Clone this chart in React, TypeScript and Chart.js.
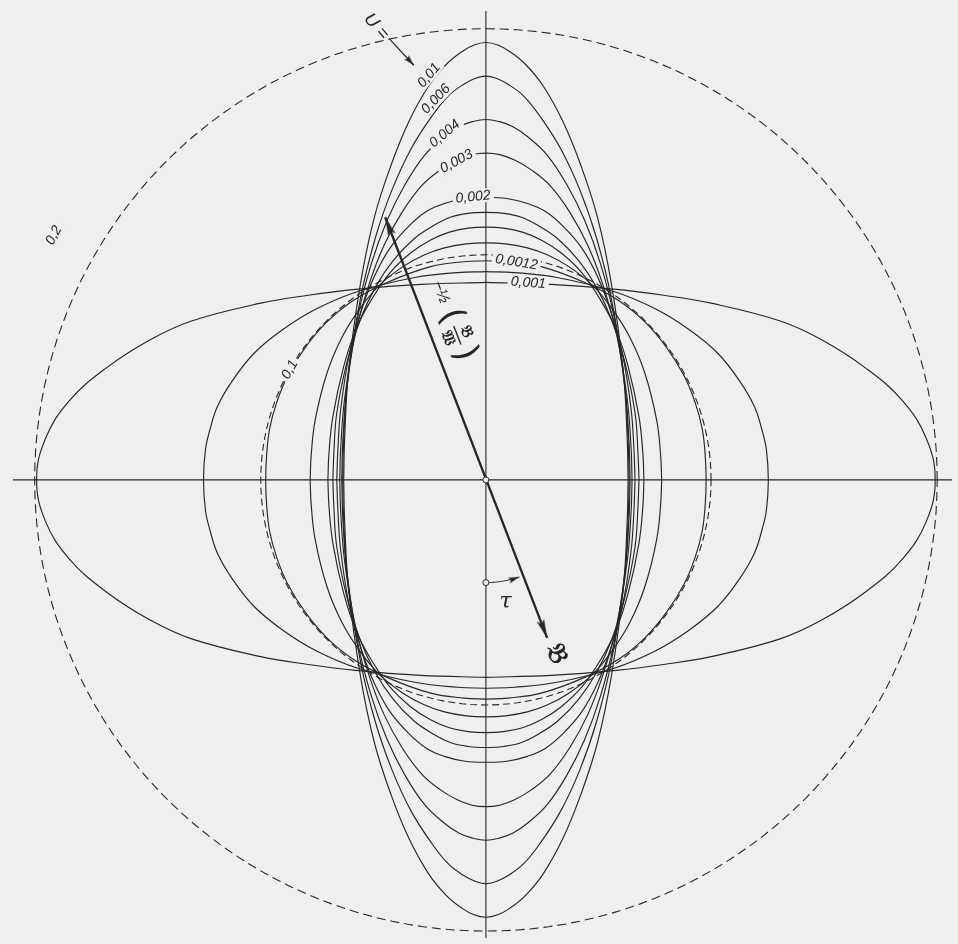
import React, { useEffect, useRef } from 'react';
import { Chart, registerables } from 'chart.js';

Chart.register(...registerables);

const CANVAS_W = 958;
const CANVAS_H = 944;
const X_RANGE = [-486, 472];
const Y_RANGE = [-464, 480];

const BG = '#efefed';
const INK = '#262626';

// Quarter outlines of the U-curves: (dx, dy) from the centre,
// running from the horizontal axis to the vertical axis.
const Q_0_001 = [[455, 0], [446, 42], [422, 80], [385, 113], [340, 142], [298, 161], [228, 179], [180, 187], [132, 193], [66, 198], [0, 200]];
const Q_0_0011 = [[286, 0], [284, 31], [280, 49], [272, 74], [257, 100], [235, 128], [206, 152], [172, 173], [129, 191], [72, 205], [29, 210], [0, 211]];
const Q_0_0012 = [[223, 0], [222, 26], [219, 52], [212, 78], [201, 105], [183, 134], [161, 160], [134, 182], [100, 200], [56, 216], [22, 221], [0, 222]];
const Q_0_0014 = [[178, 0], [177, 24], [173, 60], [161, 108], [146, 144], [128, 173], [108, 197], [84, 216], [62, 228], [42, 235], [20, 239], [0, 240]];
const Q_0_0016 = [[160, 0], [159, 26], [155, 64], [144, 115], [131, 154], [115, 184], [97, 210], [76, 230], [56, 243], [37, 251], [18, 255], [0, 256]];
const Q_0_0018 = [[155, 0], [154, 27], [151, 68], [140, 122], [127, 163], [112, 195], [94, 222], [73, 244], [54, 257], [36, 266], [18, 270], [0, 271]];
const Q_0_002 = [[151, 0], [150, 29], [147, 72], [138, 129], [126, 172], [113, 206], [97, 235], [78, 257], [60, 272], [42, 280], [21, 285], [0, 286]];
const Q_0_003 = [[148, 0], [147, 33], [143, 83], [132, 149], [118, 199], [103, 238], [85, 271], [65, 298], [46, 314], [29, 324], [14, 329.5], [0, 331]];
const Q_0_004 = [[146, 0], [145, 37], [141, 91], [130, 164], [116, 219], [100, 263], [82, 299], [62, 329], [43, 347], [27, 358], [13, 363], [0, 365]];
const Q_0_006 = [[145, 0], [144, 41], [140, 102], [127, 184], [112, 245], [95, 294], [76, 335], [55, 368], [38, 389], [22, 401], [11, 406.5], [0, 409]];
const Q_0_01 = [[144, 0], [143, 44], [139, 111], [127, 199], [113, 266], [96, 319], [78, 363], [58, 399], [40, 421], [24, 434], [12, 440.5], [0, 443]];

// curves that are wider than tall are split at the top/bottom, the others at the sides
const WIDE_CURVES = [Q_0_001, Q_0_0011, Q_0_0012];
const TALL_CURVES = [Q_0_0014, Q_0_0016, Q_0_0018, Q_0_002, Q_0_003, Q_0_004, Q_0_006, Q_0_01];

// dashed circles U = 0,1 and U = 0,2 (radius)
const DASHED_RADII = [228, 457];
const DASHED_PATTERNS = [[7, 4], [9, 5]];

// axes
const H_AXIS = [[-479, 0], [472, 0]];
const V_AXIS = [[0, 475], [0, -464]];

// the B-arrow through the centre (upper tip, lower tip)
const B_ARROW = [[-102, 266], [62, -160]];
const B_ARROW_ROT = [-21, 159];

// tau arc (radius, start and end angle from the downward vertical)
const TAU_RADIUS = 104;
const TAU_ANGLES = [0, 19];
const TAU_ARROW_ROT = 71;

// "U =" pointer
const U_ARROW = [[-98, 447], [-73, 420]];
const U_ARROW_ROT = 137;

// small circles
const MARKERS = [[0, 0], [0, -104]];

// curve labels
const CURVE_LABELS = ['0,01', '0,006', '0,004', '0,003', '0,002', '0,0012', '0,001', '0,1', '0,2'];
const CURVE_LABEL_POS = [[-58, 410], [-51, 386], [-42, 351], [-30, 323], [-13, 287], [31, 221], [43, 200], [-199, 112], [-438, 248]];
const CURVE_LABEL_ROT = [-50, -46, -40, -29, -6, 9, 4, -61, -62];

const toXY = (pts: number[][]) => pts.map(([x, y]) => ({ x, y }));

function tallHalves(q: number[][]) {
  const top = [...q, ...q.slice(0, -1).reverse().map(([x, y]) => [-x, y])];
  const bottom = top.map(([x, y]) => [x, -y]);
  return [top, bottom];
}

function wideHalves(q: number[][]) {
  const right = [...q.slice().reverse(), ...q.slice(1).map(([x, y]) => [x, -y])];
  const left = right.map(([x, y]) => [-x, y]);
  return [right, left];
}

function circlePoints(r: number) {
  const pts: number[][] = [];
  for (let i = 0; i <= 180; i++) {
    const a = (i / 180) * Math.PI * 2;
    pts.push([r * Math.cos(a), r * Math.sin(a)]);
  }
  return pts;
}

function arcPoints(r: number, a0: number, a1: number) {
  const pts: number[][] = [];
  for (let d = a0; d <= a1; d += 1) {
    const a = (d * Math.PI) / 180;
    pts.push([r * Math.sin(a), -r * Math.cos(a)]);
  }
  return pts;
}

function makeArrowHead(len: number, wid: number, notch: number) {
  const c = document.createElement('canvas');
  c.width = wid;
  c.height = len * 2;
  const g = c.getContext('2d')!;
  g.fillStyle = INK;
  g.beginPath();
  g.moveTo(wid / 2, len);
  g.lineTo(wid, 2 * len);
  g.lineTo(wid / 2, 2 * len - notch);
  g.lineTo(0, 2 * len);
  g.closePath();
  g.fill();
  return c;
}

export default function App() {
  const ref = useRef<HTMLCanvasElement | null>(null);

  useEffect(() => {
    document.body.style.margin = '0';
    document.body.style.background = BG;
    const canvas = ref.current;
    if (!canvas) return;

    const bigHead = makeArrowHead(19, 8, 4);
    const smallHead = makeArrowHead(11, 6, 2);

    const lineDs = (pts: number[][], width: number, extra: any = {}) => ({
      data: toXY(pts),
      showLine: true,
      borderColor: INK,
      borderWidth: width,
      pointRadius: 0,
      tension: 0,
      fill: false,
      ...extra,
    });

    const headDs = (pt: number[], img: HTMLCanvasElement, rot: number) => ({
      data: toXY([pt]),
      showLine: false,
      pointStyle: img,
      rotation: rot,
      pointRadius: 5,
      pointBackgroundColor: INK,
      pointBorderColor: INK,
    });

    const datasets: any[] = [];
    // top-most first
    datasets.push({
      data: toXY(MARKERS),
      showLine: false,
      pointStyle: 'circle',
      pointRadius: 3,
      pointBackgroundColor: BG,
      pointBorderColor: INK,
      pointBorderWidth: 1,
    });
    datasets.push(headDs(B_ARROW[0], bigHead, B_ARROW_ROT[0]));
    datasets.push(headDs(B_ARROW[1], bigHead, B_ARROW_ROT[1]));
    const tau = arcPoints(TAU_RADIUS, TAU_ANGLES[0], TAU_ANGLES[1]);
    datasets.push(headDs(tau[tau.length - 1], smallHead, TAU_ARROW_ROT));
    datasets.push(headDs(U_ARROW[1], smallHead, U_ARROW_ROT));
    datasets.push(lineDs(B_ARROW, 2.3));
    datasets.push(lineDs(tau, 1, { tension: 0.3 }));
    datasets.push(lineDs(U_ARROW, 1.2));
    datasets.push(lineDs(H_AXIS, 1.1));
    datasets.push(lineDs(V_AXIS, 1.1));

    WIDE_CURVES.forEach((q) => {
      wideHalves(q).forEach((h) => datasets.push(lineDs(h, 1.15, { tension: 0.4 })));
    });
    TALL_CURVES.forEach((q) => {
      tallHalves(q).forEach((h) => datasets.push(lineDs(h, 1.15, { tension: 0.4 })));
    });
    DASHED_RADII.forEach((r, i) => {
      datasets.push(lineDs(circlePoints(r), 1.1, { borderDash: DASHED_PATTERNS[i] }));
    });

    const bgPlugin = {
      id: 'paper',
      beforeDraw(chart: any) {
        const c = chart.ctx;
        c.save();
        c.fillStyle = BG;
        c.fillRect(0, 0, chart.width, chart.height);
        c.restore();
      },
    };

    const textPlugin = {
      id: 'texts',
      afterDatasetsDraw(chart: any) {
        const c = chart.ctx;
        const sx = chart.scales.x;
        const sy = chart.scales.y;
        const P = (p: number[]) => [sx.getPixelForValue(p[0]), sy.getPixelForValue(p[1])];

        c.save();
        c.textAlign = 'center';
        c.textBaseline = 'middle';

        CURVE_LABELS.forEach((t, i) => {
          const [px, py] = P(CURVE_LABEL_POS[i]);
          c.save();
          c.translate(px, py);
          c.rotate((CURVE_LABEL_ROT[i] * Math.PI) / 180);
          c.font = 'italic 14px "Liberation Sans", Arial, sans-serif';
          const w = c.measureText(t).width;
          c.fillStyle = BG;
          c.fillRect(-w / 2 - 3, -7, w + 6, 14);
          c.fillStyle = INK;
          c.fillText(t, 0, 0.5);
          c.restore();
        });

        // U =
        {
          const [px, py] = P([-111, 459]);
          c.save();
          c.translate(px, py);
          c.rotate((50 * Math.PI) / 180);
          c.font = 'italic 18px "Liberation Sans", Arial, sans-serif';
          c.fillStyle = INK;
          c.fillText('U =', 0, 0);
          c.restore();
        }

        // tau
        {
          const [px, py] = P([20, -124]);
          c.font = 'italic 22px "DejaVu Serif", "Liberation Serif", serif';
          c.fillStyle = INK;
          c.fillText('τ', px, py);
        }

        // B at the arrow tip
        {
          const [px, py] = P([71, -177]);
          c.save();
          c.translate(px, py);
          c.rotate((69 * Math.PI) / 180);
          c.font = 'bold 26px "DejaVu Serif", "DejaVu Sans", serif';
          c.fillStyle = INK;
          c.fillText('𝔅', 0, 0);
          c.restore();
        }

        // (B/W)^-1/2 along the arrow
        {
          const [px, py] = P([-40, 164]);
          c.save();
          c.translate(px, py);
          c.rotate((69 * Math.PI) / 180);
          c.fillStyle = INK;
          c.strokeStyle = INK;
          c.font = 'italic 16px "Liberation Sans", Arial, sans-serif';
          c.fillText('−½', -26, -4);
          c.font = '34px "DejaVu Sans", sans-serif';
          c.fillText('(', 0, -4);
          c.fillText(')', 40, -4);
          c.font = 'bold 16px "DejaVu Serif", "DejaVu Sans", serif';
          c.fillText('𝔅', 20, -13);
          c.fillText('𝔚', 20, 6);
          c.beginPath();
          c.moveTo(10, -4);
          c.lineTo(30, -4);
          c.lineWidth = 1.4;
          c.stroke();
          c.restore();
        }

        c.restore();
      },
    };

    const chart = new Chart(canvas, {
      type: 'scatter',
      data: { datasets },
      options: {
        animation: false,
        responsive: false,
        maintainAspectRatio: false,
        events: [],
        layout: { padding: 0 },
        plugins: { legend: { display: false }, tooltip: { enabled: false } },
        scales: {
          x: { type: 'linear', min: X_RANGE[0], max: X_RANGE[1], display: false },
          y: { type: 'linear', min: Y_RANGE[0], max: Y_RANGE[1], display: false },
        },
      },
      plugins: [bgPlugin, textPlugin],
    } as any);

    return () => chart.destroy();
  }, []);

  return (
    <canvas
      ref={ref}
      width={CANVAS_W}
      height={CANVAS_H}
      style={{ display: 'block', width: CANVAS_W, height: CANVAS_H }}
    />
  );
}
